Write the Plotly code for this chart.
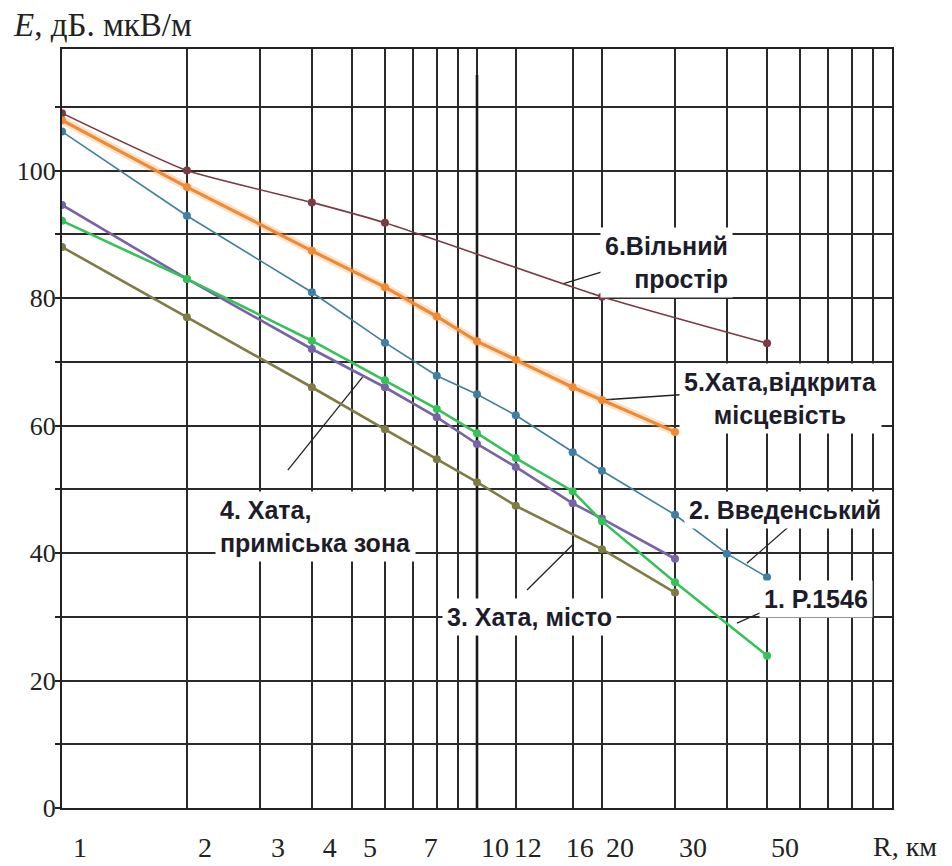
import numpy as np
import plotly.graph_objects as go

# ---- data ----
r_free = [1, 2, 4, 6, 20, 50]
e_free = [109.0, 100.0, 95.0, 91.8, 80.2, 72.9]

r_open = [1, 2, 4, 6, 8, 10, 12.4, 17, 20, 30]
e_open = [107.9, 97.4, 87.4, 81.7, 77.1, 73.2, 70.3, 66.0, 64.0, 59.0]

r_vved = [1, 2, 4, 6, 8, 10, 12.4, 17, 20, 30, 40, 50]
e_vved = [106.1, 92.9, 80.9, 73.0, 67.8, 64.9, 61.6, 55.8, 52.9, 46.0, 39.9, 36.2]

r_sub = [1, 2, 4, 6, 8, 10, 12.4, 17, 20, 30]
e_sub = [94.6, 83.0, 72.0, 66.0, 61.3, 57.1, 53.5, 47.8, 45.4, 39.1]

r_p1546 = [1, 2, 4, 6, 8, 10, 12.4, 17, 20, 30, 50]
e_p1546 = [92.1, 83.0, 73.3, 67.1, 62.6, 58.8, 54.9, 49.7, 45.0, 35.4, 23.9]

r_city = [1, 2, 4, 6, 8, 10, 12.4, 20, 30]
e_city = [88.0, 77.0, 66.0, 59.4, 54.7, 51.1, 47.4, 40.6, 33.8]

x_tick_vals = [1, 2, 3, 4, 5, 7, 10, 12, 16, 20, 30, 50]
x_tick_text = [str(v) for v in x_tick_vals]
x_grid_vals = [1, 2, 3, 4, 5, 6, 7, 8, 9, 10, 12.4, 17, 20, 30, 40, 50, 60, 70, 80, 90, 100]
y_tick_vals = [0, 20, 40, 60, 80, 100]

series = [
    (r_free, e_free, "6. Вільний простір", "#7b3a46", 1.6, "spline"),
    (r_open, e_open, "5. Хата, відкрита місцевість", "#f08a33", 3.2, "linear"),
    (r_vved, e_vved, "2. Введенський", "#3f7fa2", 1.6, "linear"),
    (r_sub, e_sub, "4. Хата, приміська зона", "#7862a8", 2.6, "linear"),
    (r_p1546, e_p1546, "1. P.1546", "#35c257", 2.6, "linear"),
    (r_city, e_city, "3. Хата, місто", "#7e7c42", 2.6, "linear"),
]

fig = go.Figure()

# heavier grid line at R = 10
fig.add_trace(go.Scatter(x=[10, 10], y=[0, 115], mode="lines",
                         line=dict(color="#1a1a1a", width=2.6),
                         hoverinfo="skip", showlegend=False))

# leader lines (label -> curve), in data coordinates
leaders = [
    ([16.1, 20.0], [82.2, 84.1]),
    ([20.0, 32.2], [64.0, 64.9]),
    ([44.7, 57.7], [38.4, 44.7]),
    ([42.3, 50.0], [29.0, 31.1]),
    ([13.2, 17.0], [34.2, 41.3]),
    ([3.5, 5.3], [53.0, 67.6]),
]
for lx, ly in leaders:
    fig.add_trace(go.Scatter(x=lx, y=ly, mode="lines",
                             line=dict(color="#222222", width=1.3),
                             hoverinfo="skip", showlegend=False))

# soft halo under the orange curve
fig.add_trace(go.Scatter(x=r_open, y=e_open, mode="lines",
                         line=dict(color="rgba(245,150,70,0.28)", width=8),
                         hoverinfo="skip", showlegend=False))

for rx, ey, name, col, w, shape in series:
    fig.add_trace(go.Scatter(
        x=rx, y=ey, mode="lines+markers", name=name,
        line=dict(color=col, width=w, shape=shape, smoothing=0.5),
        marker=dict(color=col, size=8),
        showlegend=False,
    ))

lab_font = dict(family="Liberation Sans, Arial, sans-serif", size=25, color="#1c1c2a")


def lg(v):
    return float(np.log10(v))


annots = [
    dict(x=lg(41.4), y=85.5, text="<b>6.Вільний<br>простір</b>", xanchor="right", align="right"),
    dict(x=lg(54.0), y=64.3, text="<b>5.Хата,відкрита<br>місцевість</b>", xanchor="center", align="center"),
    dict(x=lg(55.2), y=46.7, text="<b>2. Введенський</b>", xanchor="center", align="left"),
    dict(x=lg(65.6), y=32.8, text="<b>1. P.1546</b>", xanchor="center", align="left"),
    dict(x=lg(13.4), y=30.0, text="<b>3. Хата, місто</b>", xanchor="center", align="left"),
    dict(x=lg(2.34), y=44.1, text="<b>4. Хата,<br>приміська зона</b>", xanchor="left", align="left"),
]
for a in annots:
    fig.add_annotation(xref="x", yref="y", showarrow=False, font=lab_font,
                       bgcolor="white", borderpad=4, yanchor="middle", **a)

serif = "Liberation Serif, Times New Roman, serif"
fig.add_annotation(xref="paper", yref="paper", x=-0.062, y=1.032, xanchor="left", yanchor="middle",
                   text="<i>E</i>, дБ. мкВ/м", showarrow=False,
                   font=dict(family=serif, size=33, color="#222222"))
fig.add_annotation(xref="paper", yref="paper", x=1.057, y=-0.051, xanchor="right", yanchor="middle",
                   text="R, км", showarrow=False,
                   font=dict(family=serif, size=28, color="#222222"))

# page body has an 8 px margin, so the figure is sized/margined to land on the reference grid
fig.update_layout(
    width=944, height=858,
    margin=dict(l=54, r=60, t=41, b=58),
    paper_bgcolor="white", plot_bgcolor="white",
    showlegend=False,
)
fig.update_xaxes(
    type="log", range=[0, 2], automargin=False,
    tickmode="array", tickvals=x_tick_vals, ticktext=x_tick_text,
    showgrid=False, ticks="",
    ticklabelshift=18, ticklabelstandoff=13,
    tickfont=dict(family=serif, size=28, color="#222222"),
    showline=True, linecolor="#222222", linewidth=2, mirror=True,
    minor=dict(tickmode="array", tickvals=x_grid_vals, showgrid=True,
               gridcolor="#2a2a2a", gridwidth=1.5, ticks=""),
    zeroline=False,
)
fig.update_yaxes(
    range=[0, 119.06], automargin=False,
    tickmode="array", tickvals=y_tick_vals,
    showgrid=True, gridcolor="#2a2a2a", gridwidth=1.5,
    ticks="outside", ticklen=5, tickwidth=2, tickcolor="#222222",
    ticklabelstandoff=-6,
    tickfont=dict(family=serif, size=26, color="#222222"),
    showline=True, linecolor="#222222", linewidth=2, mirror=True,
    minor=dict(dtick=10, tick0=0, showgrid=True, gridcolor="#2a2a2a", gridwidth=1.5,
               ticks="outside", ticklen=5, tickwidth=2, tickcolor="#222222"),
    zeroline=False,
)

fig.write_html("out.html")
